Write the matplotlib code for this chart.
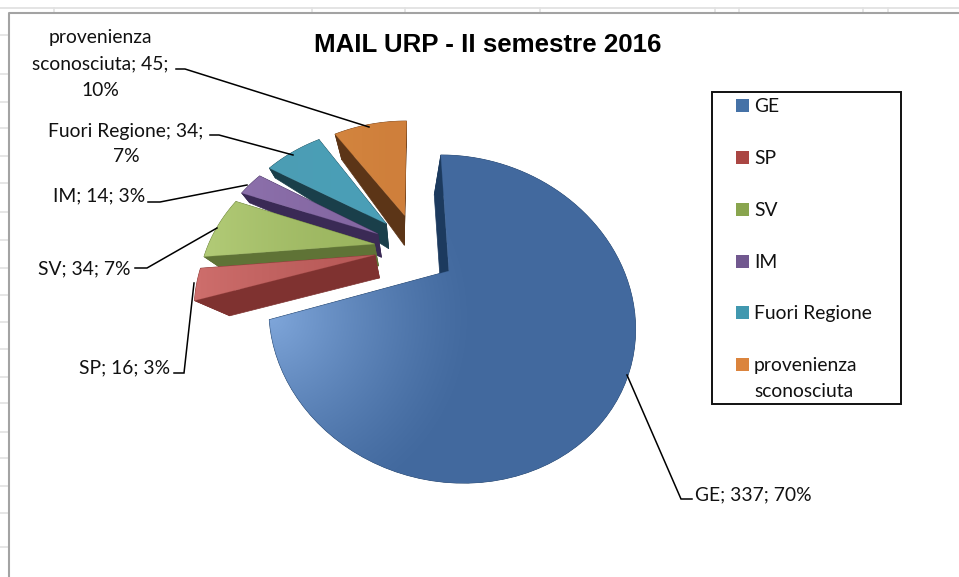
import numpy as np
import matplotlib
matplotlib.use("Agg")
import matplotlib.pyplot as plt
from matplotlib.patches import Polygon, Rectangle
from matplotlib.colors import to_rgb

# ---- data ----
categories = ["GE", "SP", "SV", "IM", "Fuori Regione", "provenienza sconosciuta"]
counts = [337, 16, 34, 14, 34, 45]
percent_labels = ["70%", "3%", "7%", "3%", "7%", "10%"]
chart_title = "MAIL URP - II semestre 2016"

# ---- style ----
top_base = ["#42699E", "#B85A58", "#9BB55F", "#8467A2", "#4A9FB7", "#CF7F3B"]
top_light = ["#7FA6DA", "#CE6E6C", "#B2CB77", "#8C70AB", "#4C9DB4", "#D3853F"]
side_col = ["#1C3A5E", "#7F3230", "#5F7336", "#3A2A55", "#1A3F4A", "#5C3517"]
legend_col = ["#4572A7", "#AA4643", "#89A54E", "#71588F", "#4198AF", "#DB843D"]
# slice displacement in the ground plane (u, v), and how much the outer/inner bottom shrinks
shift = [(.008, 0), (-.422, .11), (-.43, .19), (-.414, .267), (-.365, .347), (-.25, .414)]
t_outer = [.83, .83, .92, .95, .955, .90]
t_apex = [.83, .83, .85, .85, .85, .83]
X0, Y0, S, C, K, SK = 447.5, 271.0, 175.0, 150.0, .293, -10.0
VP = np.array([402.0, 390.0])


def project(u, v):
    w = 1 + K * v
    return np.column_stack([X0 + (S * u + SK * v) / w, Y0 - C * v / w])


plt.rcParams["font.family"] = ["Lato", "DejaVu Sans"]
fig = plt.figure(figsize=(9.59, 5.77), dpi=100)
ax = fig.add_axes([0, 0, 1, 1])
wedges, _ = ax.pie(counts, startangle=90, counterclock=False, radius=1)
thetas = [(w.theta1, w.theta2) for w in wedges]
for w in wedges:
    w.remove()
ax.set_aspect("auto")
ax.set_xlim(0, 959)
ax.set_ylim(577, 0)
ax.axis("off")


def bottom(pts, r):
    t = (t_apex_cur + (t_outer_cur - t_apex_cur) * r)[:, None]
    return VP + t * (pts - VP)


z = 10
yy, xx = np.mgrid[0:577, 0:959]
for i in range(len(counts) - 1, -1, -1):
    th1, th2 = thetas[i]
    th = np.radians(np.linspace(th1, th2, 90))
    du, dv = shift[i]
    outer = project(du + np.cos(th), dv + np.sin(th))
    apex = project(np.array([du]), np.array([dv]))
    t_apex_cur, t_outer_cur = t_apex[i], t_outer[i]
    top_poly = np.vstack([apex, outer])
    b_out = bottom(outer, np.ones(len(outer)))
    b_apex = bottom(apex, np.zeros(1))
    # side faces: rim and the two radial faces
    faces = [np.vstack([outer, b_out[::-1]]),
             np.vstack([apex, outer[:1], b_out[:1], b_apex]),
             np.vstack([apex, outer[-1:], b_out[-1:], b_apex])]
    for f in faces:
        ax.add_patch(Polygon(f, closed=True, fc=side_col[i], ec=side_col[i], lw=.5, zorder=z))
    z += 1
    # top face with gradient towards the lower-left / outer part
    x0, x1 = top_poly[:, 0].min(), top_poly[:, 0].max()
    base, light = np.array(to_rgb(top_base[i])), np.array(to_rgb(top_light[i]))
    if i == 0:
        f = np.clip(1 - np.hypot(xx - 270, yy - 318) / 205, 0, 1) ** 1.3
    else:
        f = np.clip((x1 - xx) / max(x1 - x0, 1), 0, 1) ** 1.5
    rgb = base + (light - base) * f[..., None]
    im = ax.imshow(rgb, extent=(-.5, 958.5, 576.5, -.5), zorder=z, aspect="auto", interpolation="nearest")
    patch = Polygon(top_poly, closed=True, transform=ax.transData, fc="none", ec="none")
    ax.add_patch(patch)
    im.set_clip_path(patch)
    z += 1
    ax.add_patch(Polygon(top_poly, closed=True, fc="none", ec=top_base[i], lw=.6, alpha=.3, zorder=z))
    z += 1
ax.set_xlim(0, 959)
ax.set_ylim(577, 0)

# spreadsheet remains behind the chart
grid = "#E2E2E2"
ax.plot([0, 959], [7.5, 7.5], color=grid, lw=1.3, zorder=1)
for x in [54, 312, 405, 540, 715, 739, 863, 888]:
    ax.plot([x, x], [8, 12], color=grid, lw=1.2, zorder=1)
for y in [35, 74, 102, 128, 156, 183, 212, 240, 268, 295, 322, 349, 377, 403, 432, 458, 486, 513, 547]:
    ax.plot([0, 8], [y, y], color=grid, lw=1.2, zorder=1)
ax.plot([8.5, 8.5, 959], [577, 12.8, 12.8], color="#A3A3A3", lw=1.5, zorder=2)

# title
ax.text(488, 45, chart_title, family="Liberation Sans", weight="bold", fontsize=18.6,
        ha="center", va="center", color="black", zorder=60)

# leader lines
leaders = [
    [(176, 69), (185, 69), (369, 127)],
    [(210, 135), (219, 135), (293, 155)],
    [(148, 202), (160, 202), (247, 185)],
    [(135, 268), (147, 268), (217, 228)],
    [(174, 373), (184, 373), (194, 283)],
    [(692, 499), (681, 499), (627, 375)],
]
for pts in leaders:
    p = np.array(pts)
    ax.plot(p[:, 0], p[:, 1], color="black", lw=1.1, zorder=70, solid_joinstyle="miter")

# data labels
fs = 13.9
lab = dict(fontsize=fs, color="#111111", zorder=60, va="center")
ax.text(100, 37, "provenienza", ha="center", **lab)
ax.text(100, 64, f"sconosciuta; {counts[5]};", ha="center", **lab)
ax.text(100, 90, percent_labels[5], ha="center", **lab)
ax.text(126, 131, f"{categories[4]}; {counts[4]};", ha="center", **lab)
ax.text(126, 156, percent_labels[4], ha="center", **lab)
ax.text(145, 196, f"{categories[3]}; {counts[3]}; {percent_labels[3]}", ha="right", **lab)
ax.text(130, 269, f"{categories[2]}; {counts[2]}; {percent_labels[2]}", ha="right", **lab)
ax.text(170, 368, f"{categories[1]}; {counts[1]}; {percent_labels[1]}", ha="right", **lab)
ax.text(695, 495, f"{categories[0]}; {counts[0]}; {percent_labels[0]}", ha="left", **lab)

# legend
ax.add_patch(Rectangle((711.5, 91.5), 189, 312, fc="white", ec="#111111", lw=1.4, zorder=50))
ly = [105, 157, 209, 261, 312.5, 364.5]
for i, name in enumerate(categories):
    ax.add_patch(Rectangle((736, ly[i] - 6.5), 13, 13, fc=legend_col[i], ec="none", zorder=51))
    if i == 5:
        a, b = name.split(" ")
        ax.text(754, ly[i] + 1, a, ha="left", **lab)
        ax.text(754, ly[i] + 27, b, ha="left", **lab)
    else:
        ax.text(754, ly[i] + 1, name, ha="left", **lab)

fig.savefig("out.png", dpi=100, facecolor="white")
